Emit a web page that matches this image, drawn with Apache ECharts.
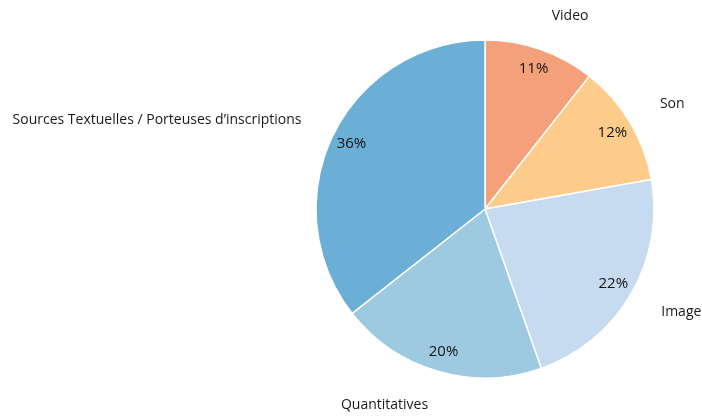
<!DOCTYPE html>
<html>
<head>
<meta charset="utf-8">
<script src="https://cdn.jsdelivr.net/npm/echarts@6/dist/echarts.min.js"></script>
<style>
  html, body { margin: 0; padding: 0; background: #fff; }
  #chart { width: 702px; height: 416px; }
</style>
</head>
<body>
<div id="chart"></div>
<script>
// parts, clockwise from 12 o'clock
const categories = ["Video", "Son", "Image", "Quantitatives", "Sources Textuelles / Porteuses d\u2019inscriptions"];
const values = [10.6, 11.6, 22.4, 19.8, 35.6];
const colors = ["#F4A17B", "#FDCB8A", "#C6DBEF", "#9ECAE1", "#6BAED6"];

const font = "'Open Sans', sans-serif";
const center = [485, 209];
const r = 169;

const pieData = categories.map((name, i) => ({
  name: name,
  value: values[i],
  itemStyle: { color: colors[i] }
}));

const chart = echarts.init(document.getElementById("chart"));
chart.setOption({
  animation: false,
  series: [
    {
      // the pie itself, category names outside
      type: "pie",
      center: center,
      radius: r,
      startAngle: 90,
      clockwise: true,
      avoidLabelOverlap: false,
      silent: true,
      itemStyle: { borderColor: "#fff", borderWidth: 1.5 },
      label: {
        show: true,
        position: "outside",
        formatter: "{b}",
        color: "#1a1a1a",
        fontFamily: font,
        fontSize: 14,
        fontWeight: 500,
        distanceToLabelLine: 0
      },
      labelLine: { show: false, length: 35, length2: 0 },
      data: pieData
    },
    {
      // transparent ring only used to place the percentages near the rim
      type: "pie",
      center: center,
      radius: [122, r],
      startAngle: 90,
      clockwise: true,
      silent: true,
      itemStyle: { color: "rgba(0,0,0,0)" },
      label: {
        show: true,
        position: "inside",
        formatter: p => Math.round(p.value) + "%",
        color: "#111",
        fontFamily: font,
        fontSize: 15,
        fontWeight: 500
      },
      labelLine: { show: false },
      data: categories.map((name, i) => ({ name: name, value: values[i] }))
    }
  ]
});
</script>
</body>
</html>
